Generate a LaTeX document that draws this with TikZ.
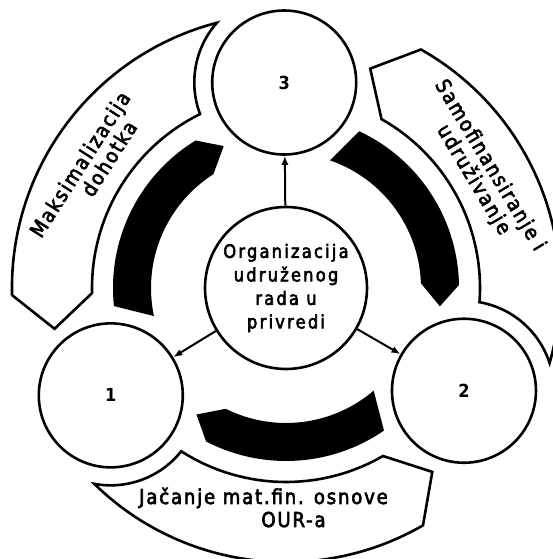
\documentclass[tikz,border=0pt]{standalone}
\usepackage{fontspec}
\setmainfont{DejaVu Sans}
\newfontfamily\hubfont[FakeStretch=0.88, FakeBold=3, LetterSpace=12]{DejaVu Sans}
\newfontfamily\bandfont[FakeStretch=0.88, FakeBold=3, LetterSpace=9]{DejaVu Sans}
\newfontfamily\numfont[FakeStretch=0.9]{DejaVu Sans Bold}
\usetikzlibrary{calc,arrows.meta}
\begin{document}
\begin{tikzpicture}[x=1pt,y=1pt,
  ring/.style={draw, line width=2.6pt, fill=white, circle, inner sep=0pt, minimum size=144pt, font=\numfont\fontsize{18}{22}\selectfont},
  hub/.style={draw, line width=2.6pt, fill=white, circle, inner sep=0pt, minimum size=162pt, align=center, font=\hubfont\fontsize{18.5}{23.5}\selectfont},
  band/.style={draw, line width=2.6pt, fill=white, line join=miter},
  blackarc/.style={fill=black},
  conn/.style={line width=2pt, -{Latex[length=9pt,width=7pt]}},
  bandtext/.style={font=\bandfont\fontsize{20.5}{21.5}\selectfont, inner sep=0pt, align=center}
]
\useasboundingbox (0,0) rectangle (553,559);
\fill[white] (0,0) rectangle (553,559);
\coordinate (O) at (286,271);

% black circulating arcs (tail at angle a, head at angle b)
\foreach \a/\b in {211.5/90.5, 90.5/-30, 330/211.5}{
  \fill[blackarc] ($(O)+({\a-19.5}:135)$)
    arc[start angle=\a-19.5, end angle=\b+32, radius=135]
    -- ($(O)+({\b+23.2}:155)$)
    -- ($(O)+({\b+31}:173)$)
    arc[start angle=\b+31, end angle=\a-25.5, radius=173] -- cycle;
}

% outer label bands (pointed end near a, concave end near b)
\foreach \a/\b in {211.5/90.5, 90.5/-30, 330/211.5}{
  \draw[band] ($(O)+({\a-30}:274)$)
    -- ($(O)+({\a-21.5}:235)$)
    -- ($(O)+({\a-30}:194)$)
    arc[start angle=\a-30, end angle=\b+25.8, radius=194]
    arc[start angle=\b+110.1, end angle=\b+48, radius=90]
    arc[start angle=\b+14.1, end angle=\a-30, radius=274] -- cycle;
}

% band texts
\node[bandtext, rotate=57.5] (tl) at ($(O)+(-197.2,118)$) {Maksimalizacija\\\hspace*{41pt}dohotka};
\node[bandtext, rotate=-59] (tr) at ($(O)+(194.5,117)$) {Samofinansiranje i\\\hspace*{8pt}udruživanje};
\node[bandtext, anchor=base] (tb1) at (263.5,55) {Jačanje mat.fin. osnove};
\node[bandtext, anchor=base] (tb2) at (293.5,32) {OUR-a};

% circles
\node[ring] (n3) at ($(O)+(90.5:205.5)$) {3};
\node[ring] (n1) at ($(O)+(211.5:205.5)$) {1};
\node[ring] (n2) at ($(O)+(330:205.5)$) {2};
\node[hub] (hub) at (O) {Organizacija\\udruženog\\rada u\\privredi};

% connectors
\draw[conn] (hub) -- (n3);
\draw[conn] (hub) -- (n1);
\draw[conn] (hub) -- (n2);
\end{tikzpicture}
\end{document}
